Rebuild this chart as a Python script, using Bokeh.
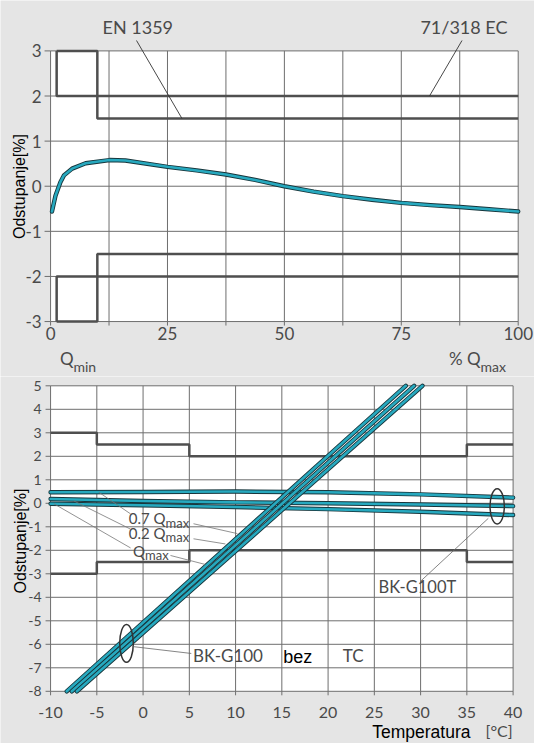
import math
from bokeh.plotting import figure
from bokeh.layouts import column
from bokeh.models import Range1d
from bokeh.core.properties import value
from bokeh.embed import file_html
from bokeh.resources import INLINE

# ---------------- data: upper chart (error vs flow in % of Qmax) ----------------
flow_pct = [0.3, 1.05, 2.1, 2.85, 4.6, 7.5, 12.6, 16.0, 25.0, 31.25, 37.5, 43.75, 50.0, 56.25,
            62.5, 68.75, 75.0, 81.25, 87.5, 93.75, 100.0]
error_pct = [-0.56, -0.21, 0.09, 0.24, 0.39, 0.51, 0.58, 0.57, 0.43, 0.35, 0.26, 0.14, 0.0, -0.12,
             -0.22, -0.30, -0.37, -0.42, -0.46, -0.51, -0.56]
q_min_pct = 1.3
q_t_pct = 10.0
en1359_flow = [q_min_pct, q_t_pct, q_t_pct, 100.0]
en1359_limit = [3.0, 3.0, 1.5, 1.5]
ec_flow = [q_min_pct, q_min_pct, 100.0]
ec_limit = [3.0, 2.0, 2.0]
top_x_ticks = [0, 25, 50, 75, 100]
top_x_grid = [0, 12.5, 25, 37.5, 50, 62.5, 75, 87.5, 100]
top_y_ticks = [-3, -2, -1, 0, 1, 2, 3]

# ---------------- data: lower chart (error vs temperature) ----------------
temp_ticks = [-10, -5, 0, 5, 10, 15, 20, 25, 30, 35, 40]
dev_ticks = [-8, -7, -6, -5, -4, -3, -2, -1, 0, 1, 2, 3, 4, 5]
limit_temp = [-10, -5, -5, 5, 5, 35, 35, 40]
limit_dev = [3, 3, 2.5, 2.5, 2, 2, 2.5, 2.5]
bk_g100_temp = [[-8.25, 28.4], [-7.7, 29.3], [-7.15, 30.2]]
bk_g100_dev = [[-8, 5], [-8, 5], [-8, 5]]
bk_g100t_temp = [-10, 0, 10, 20, 30, 40]
bk_g100t_dev = [
    [0.47, 0.48, 0.50, 0.47, 0.38, 0.24],     # 0.7 Qmax
    [0.18, 0.10, 0.04, 0.00, -0.05, -0.12],   # 0.2 Qmax
    [-0.02, -0.08, -0.16, -0.25, -0.36, -0.50],  # Qmax
]

BG = "#e5e5e5"
GRID = "#6e6e6e"
LIMIT = "#4f4f4f"
TEXT = "#4a4a4a"
TEAL = "#27a9bf"
TEAL_EDGE = "#17363c"
GEO = value("Lato")
ARIAL = value("Liberation Sans")

W = 534
H1 = 376
H2 = 367


def make_fig(xr, yr, h):
    p = figure(width=W, height=h, x_range=Range1d(*xr), y_range=Range1d(*yr),
               output_backend="svg", toolbar_location=None,
               x_axis_location=None, y_axis_location=None,
               min_border_left=0, min_border_right=0, min_border_top=0, min_border_bottom=0,
               background_fill_color=BG, border_fill_color=BG, outline_line_color=None)
    p.grid.visible = False
    return p


def sub_text(p, x, y, main, sub, size, sub_size, dy, color=TEXT):
    p.text(x=[x], y=[y], text=[main], text_font=GEO, text_font_size=f"{size}px",
           text_color=color, text_align="right", text_baseline="middle")
    p.text(x=[x], y=[y - dy], text=[sub], text_font=GEO, text_font_size=f"{sub_size}px",
           text_color=color, text_align="left", text_baseline="middle")


def teal_line(p, xs, ys):
    p.line(xs, ys, line_color=TEAL_EDGE, line_width=4.4, line_join="round", line_cap="round")
    p.line(xs, ys, line_color=TEAL, line_width=2.6, line_join="round", line_cap="round")


# ================= upper figure =================
sx1 = (517.7 - 50.07) / 100
x0 = 0 - 50.07 / sx1
x1 = 0 + (W - 50.07) / sx1
sy1 = (321.06 - 50.4) / 6
ytop = 3 + 50.4 / sy1
ybot = -3 - (H1 - 321.06) / sy1
p1 = make_fig((x0, x1), (ybot, ytop), H1)


def px1(px):
    return (px - 50.07) / sx1


def py1(py):
    return (185.73 - py) / sy1


xl, xr_ = top_x_ticks[0], top_x_ticks[-1]
yb, yt = top_y_ticks[0], top_y_ticks[-1]
p1.quad(left=[xl], right=[xr_], bottom=[yb], top=[yt], fill_color="white", line_color=None)
# grid
p1.segment(x0=top_x_grid, x1=top_x_grid, y0=[yb] * len(top_x_grid), y1=[yt] * len(top_x_grid),
           line_color=GRID, line_width=1)
p1.segment(x0=[xl] * len(top_y_ticks), x1=[xr_] * len(top_y_ticks), y0=top_y_ticks, y1=top_y_ticks,
           line_color=GRID, line_width=1)
# tick marks
p1.segment(x0=[xl - 6 / sx1] * len(top_y_ticks), x1=[xl] * len(top_y_ticks), y0=top_y_ticks, y1=top_y_ticks,
           line_color=GRID, line_width=1)
p1.segment(x0=top_x_grid, x1=top_x_grid, y0=[yb] * len(top_x_grid), y1=[yb - 4 / sy1] * len(top_x_grid),
           line_color=GRID, line_width=1)
# tolerance limits
for sign in (1, -1):
    p1.line(en1359_flow, [sign * v for v in en1359_limit], line_color=LIMIT, line_width=2.5)
    p1.line(ec_flow, [sign * v for v in ec_limit], line_color=LIMIT, line_width=2.5)
teal_line(p1, flow_pct, error_pct)
# tick labels
p1.text(x=[xl - 9 / sx1] * len(top_y_ticks), y=top_y_ticks, text=[str(t) for t in top_y_ticks],
        text_font=GEO, text_font_size="17px", text_color=TEXT, text_align="right", text_baseline="middle")
p1.text(x=top_x_ticks, y=[yb - 12 / sy1] * len(top_x_ticks), text=[str(t) for t in top_x_ticks],
        text_font=GEO, text_font_size="17px", text_color=TEXT, text_align="center", text_baseline="middle")
sub_text(p1, px1(73), py1(358), "Q", "min", 17, 14, 8 / sy1)
sub_text(p1, px1(480), py1(358), "% Q", "max", 17, 14, 8 / sy1)
# axis title
p1.text(x=[px1(19)], y=[py1(186)], text=["Odstupanje[%]"], angle=math.pi / 2,
        text_font=ARIAL, text_font_size="16px", text_color="black", text_align="center",
        text_baseline="middle")
# standard labels with leaders
p1.text(x=[px1(102)], y=[py1(26)], text=["EN 1359"], text_font=GEO, text_font_size="18px", text_color=TEXT,
        text_align="left", text_baseline="middle")
p1.text(x=[px1(507)], y=[py1(26)], text=["71/318 EC"], text_font=GEO, text_font_size="18px", text_color=TEXT,
        text_align="right", text_baseline="middle")
p1.segment(x0=[px1(136), px1(461.5)], y0=[py1(40), py1(40)], x1=[px1(181.5), px1(429)],
           y1=[en1359_limit[-1], ec_limit[-1]], line_color="#333333", line_width=0.9)

# ================= lower figure =================
sx2 = (512.6 - 50.07) / 50
sy2 = (690.8 - 385.3) / 13
bx0 = -10 - 50.07 / sx2
bx1 = -10 + (W - 50.07) / sx2
by1 = 5 + (385.3 - H1) / sy2
by0 = 5 - (H1 + H2 - 385.3) / sy2
p2 = make_fig((bx0, bx1), (by0, by1), H2)


def px2(px):
    return -10 + (px - 50.07) / sx2


def py2(py):
    return 5 - (py - 385.3) / sy2


tl, tr = temp_ticks[0], temp_ticks[-1]
db, dt = dev_ticks[0], dev_ticks[-1]
p2.quad(left=[tl], right=[tr], bottom=[db], top=[dt], fill_color="white", line_color=None)
p2.segment(x0=temp_ticks, x1=temp_ticks, y0=[db] * len(temp_ticks), y1=[dt] * len(temp_ticks),
           line_color=GRID, line_width=1)
p2.segment(x0=[tl] * len(dev_ticks), x1=[tr] * len(dev_ticks), y0=dev_ticks, y1=dev_ticks,
           line_color=GRID, line_width=1)
p2.segment(x0=[tl - 5 / sx2] * len(dev_ticks), x1=[tl] * len(dev_ticks), y0=dev_ticks, y1=dev_ticks,
           line_color=GRID, line_width=1)
p2.segment(x0=temp_ticks, x1=temp_ticks, y0=[db] * len(temp_ticks), y1=[db - 4 / sy2] * len(temp_ticks),
           line_color=GRID, line_width=1)
for sign in (1, -1):
    p2.line(limit_temp, [sign * v for v in limit_dev], line_color=LIMIT, line_width=2.5)

for ys in bk_g100t_dev:
    teal_line(p2, bk_g100t_temp, ys)
for xs, ys in zip(bk_g100_temp, bk_g100_dev):
    teal_line(p2, xs, ys)

# tick labels
p2.text(x=[tl - 9 / sx2] * len(dev_ticks), y=dev_ticks, text=[str(t) for t in dev_ticks],
        text_font=GEO, text_font_size="14px", text_color=TEXT, text_align="right", text_baseline="middle")
p2.text(x=temp_ticks, y=[py2(711.5)] * len(temp_ticks), text=[str(t) for t in temp_ticks],
        text_font=GEO, text_font_size="16px", text_color=TEXT, text_align="center", text_baseline="middle")
p2.text(x=[px2(470)], y=[py2(731)], text=["Temperatura"], text_font=ARIAL,
        text_font_size="17.5px", text_color="black", text_align="right", text_baseline="middle")
p2.text(x=[px2(485)], y=[py2(730)], text=["[°C]"], text_font=GEO,
        text_font_size="16px", text_color=TEXT, text_align="left", text_baseline="middle")
p2.text(x=[px2(20)], y=[py2(540.5)], text=["Odstupanje[%]"], angle=math.pi / 2,
        text_font=ARIAL, text_font_size="16px", text_color="black", text_align="center",
        text_baseline="middle", background_fill_color=BG)

# ellipses and annotations
p2.ellipse(x=[38.28, -1.79], y=[-0.13, -5.96], width=[1.55, 1.47], height=[1.5, 1.6],
           fill_color=None, line_color="#333333", line_width=1.5)
p2.segment(x0=[29.96, -1.05], y0=[-3.33, -6.1], x1=[37.32, 5.21], y1=[-0.64, -6.39],
           line_color="#666666", line_width=0.8)
p2.text(x=[px2(378)], y=[py2(586)], text=["BK-G100T"], text_font=GEO, text_font_size="16.5px",
        text_color=TEXT, text_align="left", text_baseline="middle")
p2.text(x=[px2(192.4), px2(342.3)], y=[py2(654.5), py2(654.5)], text=["BK-G100", "TC"], text_font=GEO,
        text_font_size="17px", text_color=TEXT, text_align="left", text_baseline="middle")
p2.text(x=[px2(282.7)], y=[py2(656.5)], text=["bez"], text_font=ARIAL, text_font_size="18px",
        text_color="black", text_align="left", text_baseline="middle")

# Q labels with leader lines
q_lbl = ["0.7 Q", "0.2 Q", "Q"]
q_join_x = [px2(165), px2(165), px2(144.5)]
q_lbl_y = [py2(517.5), py2(532), py2(550)]
for lbl, xx, yy in zip(q_lbl, q_join_x, q_lbl_y):
    sub_text(p2, xx, yy, lbl, "max", 15, 13, 4.5 / sy2)
p2.segment(x0=[-4.78, -7.48, -9.64], y0=[0.47, 0.1, -0.02], x1=[-1.35, -1.35, -1.35], y1=[-0.45, -1.1, -1.9],
           line_color="#777777", line_width=0.8)
p2.segment(x0=[px2(193), px2(193), px2(170)], y0=[-0.87, -1.51, -2.22], x1=[10.2, 8.9, 6.7],
           y1=[-1.29, -1.73, -2.6], line_color="#777777", line_width=0.8)

layout = column(p1, p2, spacing=0)
open("out.html", "w").write(file_html(layout, INLINE))
